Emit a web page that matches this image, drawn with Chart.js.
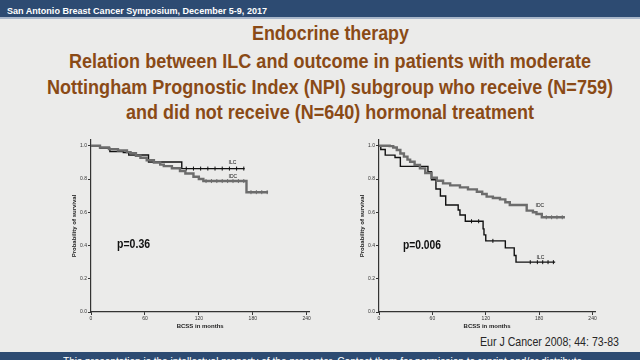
<!DOCTYPE html>
<html>
<head>
<meta charset="utf-8">
<script src="https://cdn.jsdelivr.net/npm/chart.js@4/dist/chart.umd.min.js"></script>
<style>
  body { margin: 0; width: 640px; height: 360px; overflow: hidden; background: #ebebea; position: relative;
         font-family: "Liberation Sans", Arial, sans-serif; }
  .topbar { position: absolute; left: 0; top: 0; width: 640px; height: 17px; background: #2d4b72; border-bottom: 2px solid #a9b7ca; }
  .footbar { position: absolute; left: 0; top: 352px; width: 640px; height: 8px; background: #2d4b72; overflow: hidden; }
  .fit { position: absolute; white-space: nowrap; line-height: 1; transform-origin: 0 0; }
  canvas { position: absolute; }
</style>
</head>
<body>
<div class="topbar"></div>
<div class="footbar"></div>
<span class="fit" id="hdr" style="color:#fff; font-weight:bold">San Antonio Breast Cancer Symposium, December 5-9, 2017</span>
<span class="fit" id="t1" style="color:#8a4a16; font-weight:bold">Endocrine therapy</span>
<span class="fit" id="t2" style="color:#8a4a16; font-weight:bold">Relation between ILC and outcome in patients with moderate</span>
<span class="fit" id="t3" style="color:#8a4a16; font-weight:bold">Nottingham Prognostic Index (NPI) subgroup who receive (N=759)</span>
<span class="fit" id="t4" style="color:#8a4a16; font-weight:bold">and did not receive (N=640) hormonal treatment</span>
<span class="fit" id="ref" style="color:#262626">Eur J Cancer 2008; 44: 73-83</span>
<span class="fit" id="foot" style="color:#fff">This presentation is the intellectual property of the presenter. Contact them for permission to reprint and/or distribute.</span>

<canvas id="leftChart" width="260" height="210" style="left:60px; top:135px"></canvas>
<canvas id="rightChart" width="270" height="210" style="left:348px; top:135px"></canvas>

<script>
// ============ DATA ============
const xTicks = [0, 60, 120, 180, 240];
const yTicks = [0, 0.2, 0.4, 0.6, 0.8, 1.0];

// left panel: received hormonal treatment
const leftIlcMonths = [0, 10, 21, 36, 42, 64, 101, 171];
const leftIlcSurv   = [1, 0.986, 0.966, 0.96, 0.945, 0.903, 0.863, 0.863];
const leftIdcMonths = [0, 10, 20, 30, 40, 44, 50, 55, 62, 70, 77, 81, 90, 99, 105, 114, 120, 125, 173, 197];
const leftIdcSurv   = [1, 0.99, 0.98, 0.972, 0.962, 0.955, 0.94, 0.928, 0.913, 0.9, 0.887, 0.878, 0.865, 0.848, 0.833, 0.814, 0.8, 0.788, 0.721, 0.721];
const leftIlcCensor = [106, 114, 122, 130, 138, 146, 154, 162, 170];
const leftIdcCensor = [128, 134, 140, 146, 152, 158, 164, 170, 178, 184, 190, 196];

// right panel: did not receive hormonal treatment
const rightIlcMonths = [0, 2, 7, 18, 24, 55, 59, 64, 69, 75, 89, 91, 97, 117, 118, 120, 142, 152, 154, 198];
const rightIlcSurv   = [1, 0.978, 0.944, 0.93, 0.876, 0.844, 0.796, 0.74, 0.698, 0.644, 0.614, 0.584, 0.546, 0.5, 0.464, 0.428, 0.386, 0.34, 0.30, 0.30];
const rightIdcMonths = [0, 7, 12, 16, 20, 24, 28, 32, 35, 40, 46, 52, 59, 65, 72, 80, 91, 100, 110, 116, 121, 128, 136, 142, 147, 166, 173, 177, 183, 209];
const rightIdcSurv   = [1, 1, 0.998, 0.99, 0.975, 0.954, 0.935, 0.917, 0.904, 0.885, 0.864, 0.836, 0.808, 0.79, 0.774, 0.762, 0.75, 0.738, 0.724, 0.71, 0.694, 0.686, 0.678, 0.66, 0.644, 0.61, 0.6, 0.59, 0.57, 0.57];
const rightIlcCensor = [104, 112, 128, 170, 178, 184, 190, 196];
const rightIdcCensor = [188, 194, 200, 206];

// ============ SLIDE TEXT (narrow font squeezed to the slide's widths) ============
function fitText(id, x1, x2, baseline, size) {
    const el = document.getElementById(id);
    el.style.fontSize = size + 'px';
    el.style.left = x1 + 'px';
    el.style.top = (baseline - 0.8465 * size) + 'px';
    const w = el.getBoundingClientRect().width;
    el.style.transform = 'scaleX(' + ((x2 - x1) / w) + ')';
}
fitText('hdr', 7, 267, 14, 9.5);
fitText('t1', 252, 409, 40.7, 19.5);
fitText('t2', 69, 591, 68.3, 19.5);
fitText('t3', 47, 613, 95, 19.5);
fitText('t4', 126, 534, 120, 19.5);
fitText('ref', 480, 619, 346.7, 12.8);
fitText('foot', 63, 585, 365, 11);

// ============ HELPERS ============
function toPoints(months, surv) {
    return months.map((m, i) => ({ x: m, y: surv[i] }));
}

// y value of a step curve at a given time
function survAt(months, surv, t) {
    let v = surv[0];
    for (let i = 0; i < months.length; i++) {
        if (months[i] <= t) v = surv[i];
    }
    return v;
}

const kmText = {
    id: 'kmText',
    afterDatasetsDraw(chart, args, opts) {
        const ctx = chart.ctx;
        (opts.items || []).forEach(it => {
            ctx.save();
            ctx.font = it.font;
            ctx.fillStyle = '#111';
            ctx.textBaseline = 'middle';
            const x = chart.scales.x.getPixelForValue(it.x);
            const y = chart.scales.y.getPixelForValue(it.y);
            ctx.translate(x, y);
            if (it.width) ctx.scale(it.width / ctx.measureText(it.text).width, 1);
            ctx.fillText(it.text, 0, 0);
            ctx.restore();
        });
    }
};

function makeChart(id, padRight, ilcM, ilcS, idcM, idcS, ilcC, idcC, items) {
    const tickFont = { family: 'Liberation Sans', size: 5 };
    return new Chart(document.getElementById(id), {
        type: 'line',
        data: {
            datasets: [
                { data: toPoints(idcM, idcS), borderColor: '#6c6c6c', borderWidth: 2.4, stepped: true, pointRadius: 0 },
                { data: toPoints(ilcM, ilcS), borderColor: '#111', borderWidth: 1.4, stepped: true, pointRadius: 0 },
                { type: 'scatter', data: idcC.map(t => ({ x: t, y: survAt(idcM, idcS, t) })),
                  pointStyle: 'line', rotation: 90, radius: 2, borderColor: '#6c6c6c', borderWidth: 1 },
                { type: 'scatter', data: ilcC.map(t => ({ x: t, y: survAt(ilcM, ilcS, t) })),
                  pointStyle: 'line', rotation: 90, radius: 2, borderColor: '#111', borderWidth: 1 }
            ]
        },
        options: {
            responsive: false,
            animation: false,
            devicePixelRatio: 1,
            layout: { padding: { top: 4, right: padRight, left: 0, bottom: 0 } },
            plugins: { legend: { display: false }, tooltip: { enabled: false }, kmText: { items: items } },
            scales: {
                x: {
                    type: 'linear', min: 0, max: 243,
                    afterBuildTicks: s => { s.ticks = xTicks.map(v => ({ value: v })); },
                    afterFit: s => { s.height = 33; },
                    border: { color: '#333', width: 1.2 },
                    grid: { drawOnChartArea: false, tickLength: 3, color: '#333' },
                    ticks: { font: tickFont, color: '#333', padding: 1, maxRotation: 0 },
                    title: { display: true, text: 'BCSS in months', color: '#222', font: { family: 'Liberation Sans', size: 6, weight: 'bold' }, padding: { top: 2, bottom: 15 } }
                },
                y: {
                    min: 0, max: 1.035,
                    afterBuildTicks: s => { s.ticks = yTicks.map(v => ({ value: v })); },
                    afterFit: s => { s.width = 31; },
                    border: { color: '#333', width: 1.2 },
                    grid: { drawOnChartArea: false, tickLength: 3, color: '#333' },
                    ticks: { font: tickFont, color: '#333', padding: 1, callback: v => v.toFixed(1) },
                    title: { display: true, text: 'Probability of survival', color: '#222', font: { family: 'Liberation Sans', size: 6, weight: 'bold' }, padding: { top: 11, bottom: 0 } }
                }
            }
        },
        plugins: [kmText]
    });
}

// ============ INITIALIZE PAGE ============
const pFont = 'bold 12.5px "Liberation Sans", Arial';
const labFont = '5px "Liberation Sans", Arial';

makeChart('leftChart', 10.6, leftIlcMonths, leftIlcSurv, leftIdcMonths, leftIdcSurv, leftIlcCensor, leftIdcCensor, [
    { text: 'ILC', x: 153, y: 0.901, font: labFont },
    { text: 'IDC', x: 153, y: 0.816, font: labFont },
    { text: 'p=0.36', x: 29, y: 0.404, font: pFont, width: 33 }
]);

makeChart('rightChart', 22.8, rightIlcMonths, rightIlcSurv, rightIdcMonths, rightIdcSurv, rightIlcCensor, rightIdcCensor, [
    { text: 'IDC', x: 176, y: 0.638, font: labFont },
    { text: 'ILC', x: 177, y: 0.325, font: labFont },
    { text: 'p=0.006', x: 27, y: 0.397, font: pFont, width: 38 }
]);
</script>
</body>
</html>
